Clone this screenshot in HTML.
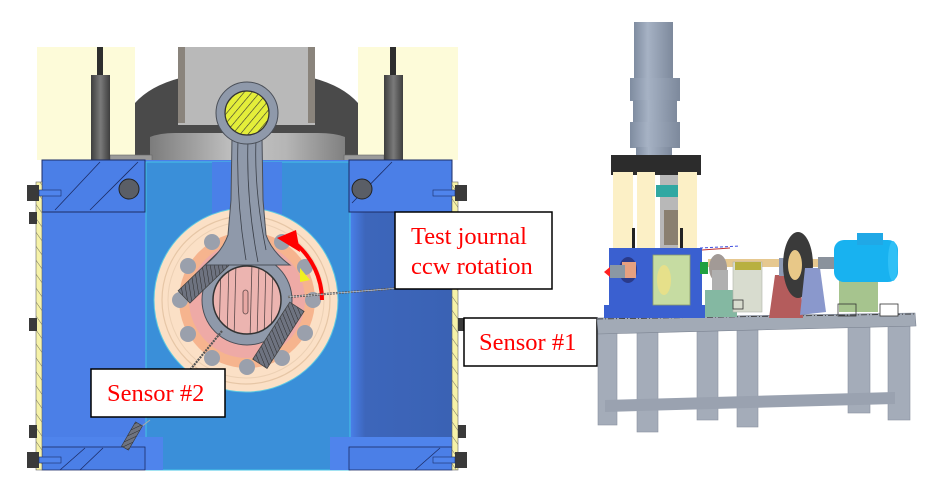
<!DOCTYPE html>
<html><head><meta charset="utf-8">
<style>
html,body{margin:0;padding:0;background:#fff;}
svg{display:block;}
.lbl{font-family:"Liberation Serif",serif;font-size:24.5px;fill:#ff0000;}
</style></head>
<body>
<svg width="945" height="500" viewBox="0 0 945 500" xmlns="http://www.w3.org/2000/svg">
<defs>
  <pattern id="hy" width="6" height="6" patternUnits="userSpaceOnUse" patternTransform="rotate(40)">
    <rect width="6" height="6" fill="#e4ee3a"/><line x1="0" y1="0" x2="0" y2="6" stroke="#333" stroke-width="1.2"/>
  </pattern>
  <pattern id="hg" width="4" height="4" patternUnits="userSpaceOnUse" patternTransform="rotate(35)">
    <rect width="4" height="4" fill="#6e7380"/><line x1="0" y1="0" x2="0" y2="4" stroke="#2a2a2a" stroke-width="1"/>
  </pattern>
  <pattern id="hs" width="8" height="8" patternUnits="userSpaceOnUse" patternTransform="rotate(-35)">
    <rect width="8" height="8" fill="#f6f2a8"/><line x1="0" y1="0" x2="0" y2="8" stroke="#555" stroke-width="0.8"/>
  </pattern>
  <linearGradient id="saddle" x1="0" x2="1" y1="0" y2="0">
    <stop offset="0" stop-color="#7c7c7c"/><stop offset="0.45" stop-color="#c4c4c4"/><stop offset="0.7" stop-color="#b5b5b5"/><stop offset="1" stop-color="#808080"/>
  </linearGradient>
  <linearGradient id="post" x1="0" x2="1">
    <stop offset="0" stop-color="#3e3e3e"/><stop offset="0.5" stop-color="#7a7a7a"/><stop offset="1" stop-color="#3e3e3e"/>
  </linearGradient>
  <linearGradient id="cyl" x1="0" x2="1">
    <stop offset="0" stop-color="#7f8ca0"/><stop offset="0.35" stop-color="#a6b2c4"/><stop offset="1" stop-color="#7d899c"/>
  </linearGradient>
  <linearGradient id="rblue" x1="0" x2="1">
    <stop offset="0" stop-color="#4a80ea"/><stop offset="0.15" stop-color="#3d66bb"/><stop offset="1" stop-color="#3a62b4"/>
  </linearGradient>
  <clipPath id="jc"><circle cx="247" cy="300" r="34"/></clipPath>
</defs>

<!-- ===== LEFT FIGURE ===== -->
<!-- cream backgrounds -->
<rect x="37" y="47" width="98" height="113" fill="#fdfbd9"/>
<rect x="358" y="47" width="100" height="113" fill="#fdfbd9"/>
<!-- dark dome -->
<path d="M135,160 L135,103 Q150,86 180,78 L313,78 Q343,86 358,103 L358,160 Z" fill="#4a4a4a"/>
<!-- gray box -->
<rect x="178" y="47" width="137" height="78" fill="#b9b9b9"/>
<rect x="178" y="47" width="7" height="76" fill="#8a847c"/>
<rect x="308" y="47" width="7" height="76" fill="#8a847c"/>
<path d="M185,125 Q200,125 215,133 L280,133 Q295,125 308,125 Z" fill="#4a4a4a"/>
<!-- saddle -->
<path d="M150,137 Q160,133 175,133 L318,133 Q335,133 345,137 L345,162 L150,162 Z" fill="url(#saddle)"/>
<rect x="110" y="155" width="42" height="8" fill="#9a9a9a" stroke="#666" stroke-width="0.6"/>
<rect x="344" y="155" width="40" height="8" fill="#9a9a9a" stroke="#666" stroke-width="0.6"/>
<!-- posts -->
<rect x="97" y="47" width="6" height="30" fill="#2e2e2e"/>
<rect x="91" y="75" width="19" height="87" fill="url(#post)"/>
<rect x="390" y="47" width="6" height="30" fill="#2e2e2e"/>
<rect x="384" y="75" width="19" height="87" fill="url(#post)"/>

<!-- blue body -->
<rect x="42" y="160" width="410" height="310" fill="#4b7fe7"/>
<rect x="350" y="212" width="102" height="258" fill="url(#rblue)"/>
<rect x="146" y="162" width="204" height="308" fill="#3a8fd9" stroke="#44c4e6" stroke-width="1"/>
<rect x="212" y="162" width="70" height="56" fill="#4a80e8"/>
<!-- top blocks -->
<rect x="42" y="160" width="103" height="52" fill="#4b7fe7" stroke="#1c2c66" stroke-width="1"/>
<line x1="55" y1="210" x2="100" y2="162" stroke="#1c2c66" stroke-width="0.8"/>
<line x1="90" y1="210" x2="138" y2="162" stroke="#1c2c66" stroke-width="0.8"/>
<circle cx="129" cy="189" r="10" fill="#5a5e66" stroke="#222" stroke-width="1"/>
<rect x="349" y="160" width="103" height="52" fill="#4b7fe7" stroke="#1c2c66" stroke-width="1"/>
<line x1="352" y1="203" x2="392" y2="162" stroke="#1c2c66" stroke-width="0.8"/>
<circle cx="362" cy="189" r="10" fill="#5a5e66" stroke="#222" stroke-width="1"/>
<!-- bottom blocks -->
<rect x="42" y="437" width="121" height="33" fill="#4f84ec"/>
<rect x="42" y="447" width="103" height="23" fill="#4b7fe7" stroke="#1c2c66" stroke-width="0.8"/>
<line x1="60" y1="470" x2="85" y2="448" stroke="#1c2c66" stroke-width="0.8"/>
<line x1="80" y1="470" x2="103" y2="448" stroke="#1c2c66" stroke-width="0.8"/>
<rect x="330" y="437" width="122" height="33" fill="#4f84ec"/>
<rect x="349" y="447" width="103" height="23" fill="#4b7fe7" stroke="#1c2c66" stroke-width="0.8"/>
<line x1="415" y1="470" x2="440" y2="448" stroke="#1c2c66" stroke-width="0.8"/>
<!-- side hatched strips -->
<rect x="36" y="182" width="6" height="288" fill="url(#hs)" stroke="#666" stroke-width="0.6"/>
<rect x="452" y="182" width="6" height="288" fill="url(#hs)" stroke="#666" stroke-width="0.6"/>
<!-- side bolts -->
<g fill="#3a3a3a">
<rect x="27" y="185" width="12" height="16"/><rect x="39" y="190" width="22" height="6" fill="#4f84ec" stroke="#1c2c66" stroke-width="0.6"/>
<rect x="29" y="212" width="8" height="12"/>
<rect x="29" y="318" width="8" height="13"/>
<rect x="29" y="425" width="8" height="13"/>
<rect x="27" y="452" width="12" height="16"/><rect x="39" y="457" width="22" height="6" fill="#4f84ec" stroke="#1c2c66" stroke-width="0.6"/>
<rect x="455" y="185" width="12" height="16"/><rect x="433" y="190" width="22" height="6" fill="#4f84ec" stroke="#1c2c66" stroke-width="0.6"/>
<rect x="458" y="318" width="8" height="13"/>
<rect x="458" y="425" width="8" height="13"/>
<rect x="455" y="452" width="12" height="16"/><rect x="433" y="457" width="22" height="6" fill="#4f84ec" stroke="#1c2c66" stroke-width="0.6"/>
</g>

<!-- bearing assembly -->
<circle cx="246" cy="300" r="92" fill="#fbe0c6" stroke="#5cc8e0" stroke-width="1"/>
<circle cx="246" cy="300" r="84" fill="none" stroke="#e6c6a6" stroke-width="1.2"/>
<circle cx="246" cy="300" r="78" fill="none" stroke="#ecd0b4" stroke-width="1"/>
<circle cx="247" cy="300" r="68" fill="#f6b48e"/>
<g fill="#9aa0ac">
<circle cx="313" cy="300" r="8"/><circle cx="305" cy="333" r="8"/><circle cx="282" cy="358" r="8"/><circle cx="247" cy="367" r="8"/>
<circle cx="212" cy="358" r="8"/><circle cx="188" cy="334" r="8"/><circle cx="180" cy="300" r="8"/><circle cx="188" cy="266" r="8"/>
<circle cx="212" cy="242" r="8"/><circle cx="282" cy="242" r="8"/><circle cx="305" cy="267" r="8"/>
</g>
<circle cx="247" cy="300" r="58" fill="#eeaaa6"/>
<!-- yellow wedge -->
<path d="M300,268 L310,280 L300,282 Z" fill="#f0f020"/>
<!-- big end -->
<circle cx="247" cy="300" r="45" fill="#8f99aa" stroke="#4a4f58" stroke-width="1"/>
<rect x="175" y="267" width="62" height="17" fill="url(#hg)" stroke="#444" stroke-width="0.8" transform="rotate(-44 206 275)"/>
<rect x="244" y="327" width="68" height="17" fill="url(#hg)" stroke="#444" stroke-width="0.8" transform="rotate(-57 278 335)"/>
<!-- shaft -->
<path d="M232,137 L262,137 L263,200 L266,235 Q272,252 290,265 L205,265 Q222,252 228,235 L231,200 Z" fill="#8f99aa" stroke="#4a4f58" stroke-width="1"/>
<g stroke="#3a3f48" stroke-width="0.8" fill="none">
<path d="M238,140 Q236,200 246,260"/><path d="M248,140 Q246,200 258,262"/><path d="M256,140 Q254,190 266,250"/>
</g>
<!-- journal -->
<circle cx="247" cy="300" r="34" fill="#ecb4b0"/>
<g clip-path="url(#jc)" stroke="#5a4848" stroke-width="0.8">
<line x1="221" y1="262" x2="219" y2="340"/><line x1="229" y1="262" x2="227" y2="340"/><line x1="236" y1="262" x2="234" y2="340"/>
<line x1="252" y1="262" x2="250" y2="340"/><line x1="259" y1="262" x2="257" y2="340"/><line x1="266" y1="262" x2="264" y2="340"/><line x1="273" y1="262" x2="271" y2="340"/>
</g>
<rect x="243" y="290" width="5" height="24" rx="2.5" fill="#e8a8a4" stroke="#5a4848" stroke-width="0.8"/>
<circle cx="247" cy="300" r="34" fill="none" stroke="#333" stroke-width="1.5"/>
<!-- small end -->
<circle cx="247" cy="113" r="31" fill="#8f99aa" stroke="#4a4f58" stroke-width="1"/>
<circle cx="247" cy="113" r="22" fill="url(#hy)" stroke="#333" stroke-width="1.2"/>

<!-- red arrow -->
<path d="M322,300 A75,75 0 0 0 295,243" fill="none" stroke="#ff0000" stroke-width="4"/>
<polygon points="277,238 296,230 300,252" fill="#ff0000"/>

<!-- sensor leads -->
<line x1="288" y1="297" x2="412" y2="287" stroke="#555" stroke-width="2.2" stroke-dasharray="2,1"/>
<line x1="288" y1="297" x2="412" y2="287" stroke="#ddd" stroke-width="0.6"/>
<line x1="222" y1="331" x2="190" y2="370" stroke="#555" stroke-width="2.2" stroke-dasharray="2,1"/>
<line x1="150" y1="420" x2="137" y2="430" stroke="#aaa" stroke-width="1"/>
<rect x="128" y="422" width="8" height="28" fill="url(#hg)" stroke="#333" stroke-width="0.6" transform="rotate(30 132 436)"/>

<!-- labels -->
<rect x="395" y="212" width="157" height="77" fill="#fff" stroke="#000" stroke-width="1.5"/>
<text class="lbl" x="411" y="244">Test journal</text>
<text class="lbl" x="411" y="274">ccw rotation</text>
<rect x="464" y="318" width="133" height="48" fill="#fff" stroke="#000" stroke-width="1.5"/>
<text class="lbl" x="479" y="350">Sensor #1</text>
<rect x="91" y="369" width="134" height="48" fill="#fff" stroke="#000" stroke-width="1.5"/>
<text class="lbl" x="107" y="401">Sensor #2</text>

<!-- ===== RIGHT FIGURE ===== -->
<!-- legs -->
<g fill="#a4acb9" stroke="#8a92a0" stroke-width="0.6">
<rect x="598" y="328" width="19" height="97"/>
<rect x="637" y="330" width="21" height="102"/>
<rect x="697" y="328" width="21" height="92"/>
<rect x="737" y="328" width="21" height="99"/>
<rect x="848" y="322" width="22" height="91"/>
<rect x="888" y="322" width="22" height="98"/>
</g>
<polygon points="605,400 895,392 895,404 605,412" fill="#9aa2b0"/>
<!-- tabletop -->
<polygon points="597,318 915,313 916,326 598,334" fill="#a2aab6" stroke="#7c8492" stroke-width="0.6"/>
<line x1="597" y1="319" x2="915" y2="314" stroke="#333" stroke-width="0.8" stroke-dasharray="6,2,1,2"/>

<!-- cylinder -->
<rect x="634" y="22" width="39" height="58" fill="url(#cyl)"/>
<rect x="630" y="78" width="50" height="23" fill="url(#cyl)"/>
<rect x="633" y="100" width="44" height="23" fill="url(#cyl)"/>
<rect x="630" y="122" width="50" height="26" fill="url(#cyl)"/>
<rect x="636" y="147" width="36" height="10" fill="url(#cyl)"/>
<!-- plate -->
<rect x="611" y="155" width="90" height="20" fill="#2c2c2c"/>
<!-- inside frame -->
<rect x="660" y="175" width="20" height="75" fill="#b8b8b8"/>
<rect x="656" y="185" width="26" height="12" fill="#30a8a2"/>
<rect x="664" y="210" width="14" height="35" fill="#8a8070"/>
<path d="M650,210 Q652,225 648,240" stroke="#4050d0" fill="none" stroke-width="1"/>
<path d="M683,200 Q690,215 688,240" stroke="#c03030" fill="none" stroke-width="1"/>
<!-- columns -->
<rect x="613" y="172" width="20" height="78" fill="#fcf0c6"/>
<rect x="637" y="172" width="18" height="78" fill="#fcf0c6"/>
<rect x="678" y="172" width="19" height="78" fill="#fcf0c6"/>
<rect x="632" y="228" width="3" height="22" fill="#222"/>
<rect x="680" y="228" width="3" height="22" fill="#222"/>
<!-- blue housing -->
<rect x="609" y="248" width="93" height="62" fill="#3a60d0"/>
<rect x="604" y="305" width="101" height="13" fill="#3a60d0"/>
<rect x="653" y="255" width="37" height="50" fill="#c6dca2" stroke="#8a9a6a" stroke-width="0.8"/>
<ellipse cx="664" cy="280" rx="7" ry="15" fill="#e6e08a"/>
<ellipse cx="628" cy="270" rx="9" ry="13" fill="#2a3a8a"/>
<rect x="622" y="262" width="14" height="16" fill="#e6a080"/>
<rect x="610" y="265" width="15" height="13" fill="#8a98a4"/>
<polygon points="604,272 610,267 610,277" fill="#ff2020"/>
<rect x="700" y="262" width="8" height="12" fill="#20a040"/>
<!-- wires -->
<path d="M700,248 L740,246" stroke="#4050e0" stroke-width="1" stroke-dasharray="3,2"/>
<path d="M702,250 L730,248" stroke="#c03030" stroke-width="1"/>
<!-- shaft line -->
<rect x="708" y="259" width="130" height="8" fill="#e6c890"/>
<!-- pulley & green pedestal -->
<ellipse cx="718" cy="268" rx="9" ry="14" fill="#a29a96"/>
<rect x="712" y="270" width="16" height="25" fill="#b0b0b0"/>
<rect x="705" y="290" width="32" height="27" fill="#84b8a2"/>
<!-- pale box -->
<rect x="733" y="262" width="29" height="50" fill="#d8dccf" stroke="#b0b4a8" stroke-width="0.6"/>
<rect x="735" y="262" width="26" height="8" fill="#b8b040"/>
<rect x="733" y="300" width="10" height="9" fill="none" stroke="#333" stroke-width="0.8"/>
<!-- red pedestal -->
<polygon points="775,275 800,275 803,318 769,318" fill="#b45c5c"/>
<rect x="779" y="258" width="20" height="18" fill="#8e9ab4"/>
<!-- disk -->
<ellipse cx="798" cy="265" rx="15" ry="33" fill="#3a3a3a"/>
<ellipse cx="795" cy="265" rx="7" ry="15" fill="#e8c888"/>
<!-- blue-gray pedestal -->
<polygon points="805,268 820,268 826,312 800,315" fill="#8a98cc"/>
<rect x="818" y="257" width="18" height="12" fill="#8a929c"/>
<!-- motor -->
<rect x="839" y="280" width="39" height="32" fill="#a6c48e"/>
<rect x="834" y="240" width="64" height="42" rx="10" fill="#18b2f0"/>
<rect x="857" y="233" width="26" height="12" fill="#20a8e6"/>
<ellipse cx="893" cy="261" rx="5" ry="20" fill="#30c0f6"/>
<!-- small A/B boxes -->
<rect x="838" y="304" width="18" height="12" fill="none" stroke="#333" stroke-width="0.8"/>
<rect x="880" y="304" width="18" height="12" fill="#fff" stroke="#333" stroke-width="0.8"/>
</svg>
</body></html>
